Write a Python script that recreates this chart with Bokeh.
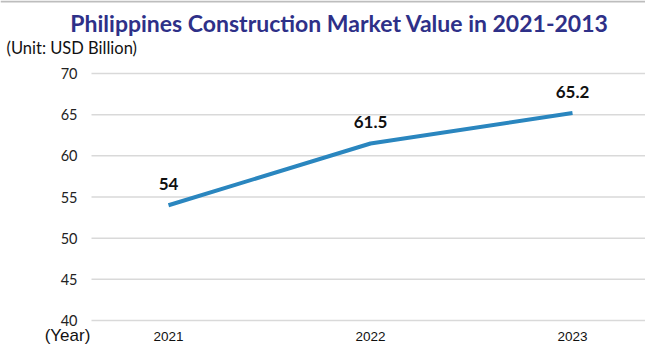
from bokeh.plotting import figure
from bokeh.models import Range1d, ColumnDataSource
from bokeh.core.properties import value
from bokeh.embed import file_html
from bokeh.resources import INLINE

years = [2021, 2022, 2023]
year_labels = ["2021", "2022", "2023"]
values = [54, 61.5, 65.2]
value_labels = ["54", "61.5", "65.2"]
y_ticks = [40, 45, 50, 55, 60, 65, 70]
y_tick_labels = ["40", "45", "50", "55", "60", "65", "70"]
title_text = "Philippines Construction Market Value in 2021-2013"
unit_text = "(Unit: USD Billion)"
x_axis_text = "(Year)"

W, H = 645, 345
# pixel layout of the plotting area (within the figure)
PX_FIRST, PX_STEP = 168.0, 202.0      # x pixel of first year, px per year
PY_BASE, PX_PER_UNIT = 320.0, 247.0 / 30.0  # y pixel of value 40, px per unit
Y_MIN = y_ticks[0]

def xd(px):
    return years[0] + (px - PX_FIRST) / PX_STEP

def yd(py):
    return Y_MIN + (PY_BASE - py) / PX_PER_UNIT

p = figure(width=W, height=H, output_backend="svg", toolbar_location=None,
           x_range=Range1d(xd(0), xd(W)), y_range=Range1d(yd(H), yd(0)),
           min_border=0, min_border_left=0, min_border_right=0,
           min_border_top=0, min_border_bottom=0)
p.outline_line_color = None
p.title.visible = False
p.xaxis.visible = False
p.yaxis.visible = False
p.xgrid.grid_line_color = None
p.ygrid.grid_line_color = None

# thin frame line at the very top
p.segment(x0=[xd(0)], x1=[xd(W)], y0=[yd(1)], y1=[yd(1)],
          line_color="#bdbdbd", line_width=2)

# horizontal gridlines
n = len(y_ticks)
p.segment(x0=[xd(91)] * n, x1=[xd(W)] * n, y0=y_ticks, y1=y_ticks,
          line_color="#d9d9d9", line_width=1.5)

# y tick labels
p.text(x=[xd(77)] * n, y=y_ticks, text=y_tick_labels, text_font=value("Lato"),
       text_font_size="14.5px", text_color="#222222", text_align="right",
       text_baseline="middle")

# x tick labels
p.text(x=years, y=[yd(336)] * len(years), text=year_labels,
       text_font=value("Liberation Sans"), text_font_size="13.5px",
       text_color="#111111", text_align="center", text_baseline="middle")

# data line and value labels
src = ColumnDataSource(dict(x=years, y=values, t=value_labels))
p.line("x", "y", source=src, line_color="#2A86BF", line_width=4)
p.text("x", "y", text="t", source=src, text_font=value("Lato"), text_font_style="bold",
       text_font_size="17px", text_color="#111111", text_align="center",
       text_baseline="middle", y_offset=-21)

# axis captions and title
p.text(x=[xd(67)], y=[yd(335)], text=[x_axis_text], text_font=value("Liberation Sans"),
       text_font_size="17px", text_color="#111111", text_align="center",
       text_baseline="middle")
p.text(x=[xd(6)], y=[yd(47)], text=[unit_text], text_font=value("Lato"),
       text_font_size="16.5px", text_color="#111111", text_align="left",
       text_baseline="middle")
p.text(x=[xd(339)], y=[yd(22)], text=[title_text], text_font=value("Lato"),
       text_font_style="bold", text_font_size="23px", text_color="#2E3088",
       text_align="center", text_baseline="middle")

open("out.html", "w").write(file_html(p, INLINE))
